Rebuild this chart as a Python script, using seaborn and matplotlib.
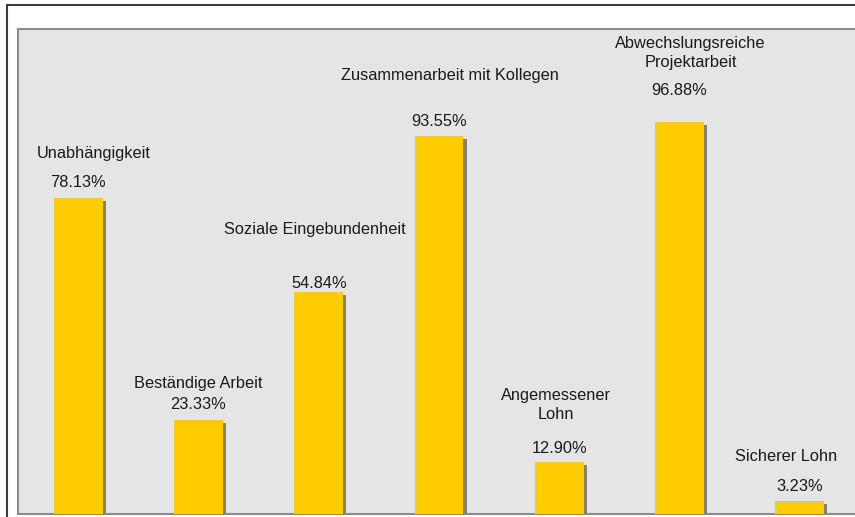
import matplotlib
matplotlib.use("Agg")
import matplotlib.pyplot as plt
import matplotlib.patheffects as pe
from matplotlib.patches import Rectangle
import seaborn as sns
import pandas as pd

categories = ["Unabhängigkeit", "Beständige Arbeit", "Soziale Eingebundenheit",
              "Zusammenarbeit mit Kollegen", "Angemessener\nLohn",
              "Abwechslungsreiche\nProjektarbeit", "Sicherer Lohn"]
values = [78.13, 23.33, 54.84, 93.55, 12.90, 96.88, 3.23]
pct_labels = ["78.13%", "23.33%", "54.84%", "93.55%", "12.90%", "96.88%", "3.23%"]

# label placement (data units / category offsets), as in the manually placed original labels
pct_y = [82.0, 27.0, 57.0, 97.0, 16.3, 104.9, 6.9]
cat_y = [89.3, 32.4, 70.3, 108.6, 27.0, 114.1, 14.3]
cat_dx = [0.13, 0.0, -0.03, 0.09, -0.03, 0.09, -0.115]

sns.set_theme(style="white")
plt.rcParams["font.family"] = ["Liberation Sans", "DejaVu Sans"]

fig = plt.figure(figsize=(8.55, 5.17), dpi=100)
W, H = 855, 517
ax = fig.add_axes([18 / W, 3 / H, 842 / W, 485 / H])
ax.set_facecolor("#E5E5E5")

df = pd.DataFrame({"cat": categories, "val": values})
sns.barplot(data=df, x="cat", y="val", color="#FFCC00", width=0.407,
            saturation=1, ax=ax, zorder=3)
for p in ax.patches:
    p.set_edgecolor("none")
    p.set_path_effects([pe.SimplePatchShadow(offset=(2.2, -2.2),
                                             shadow_rgbFace="#808080", alpha=1.0),
                        pe.Normal()])

ax.set_xlim(-0.5, 6.5)
ax.set_ylim(0, 120)
ax.set_xticks([])
ax.set_yticks([])
ax.set_xlabel("")
ax.set_ylabel("")
for s in ["left", "top", "bottom"]:
    ax.spines[s].set_color("#8C8C8C")
    ax.spines[s].set_linewidth(1.5)
ax.spines["right"].set_visible(False)

for i, (c, pl) in enumerate(zip(categories, pct_labels)):
    ax.text(i, pct_y[i], pl, ha="center", va="center", fontsize=11.8, color="#1A1A1A")
    ax.text(i + cat_dx[i], cat_y[i], c, ha="center", va="center", fontsize=11.8,
            color="#1A1A1A", linespacing=1.3, multialignment="center")

# outer chart border
fig.patches.append(Rectangle((7 / W, -0.1), 1.2, (H - 5) / H + 0.1,
                             transform=fig.transFigure, fill=False,
                             edgecolor="#3C3C3C", linewidth=1.5))

fig.savefig("out.png", dpi=100)
